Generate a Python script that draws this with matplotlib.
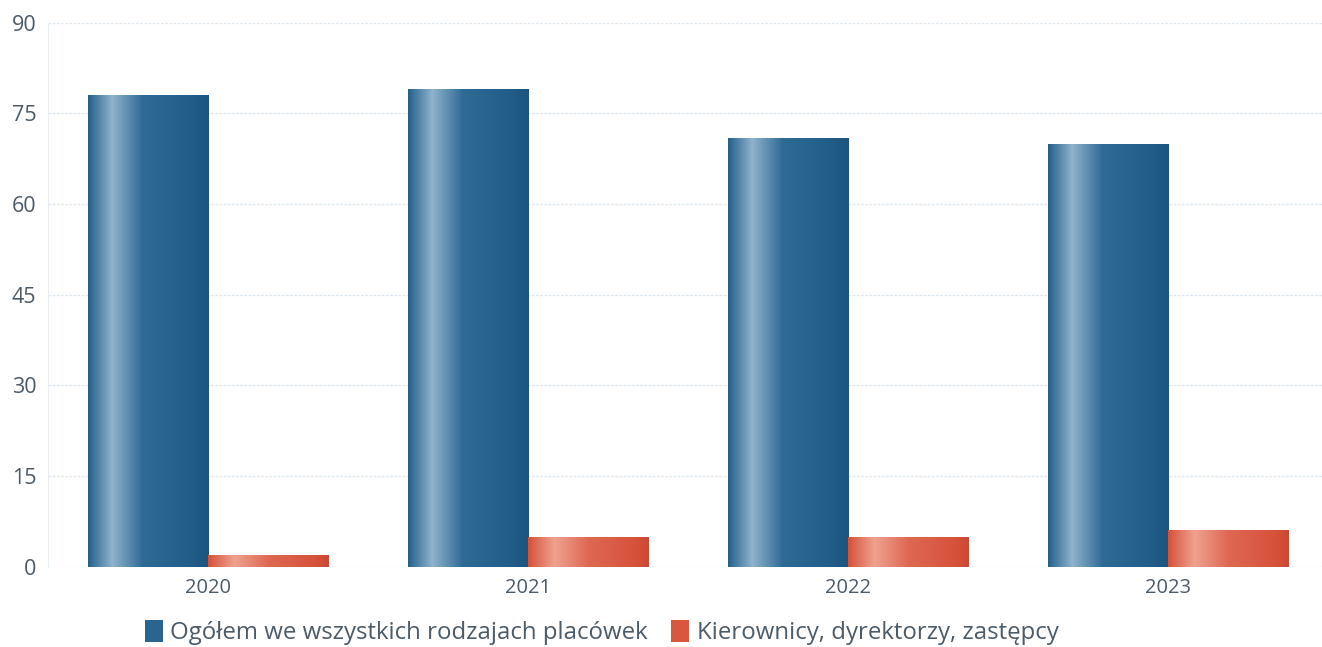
import numpy as np
import matplotlib
matplotlib.use("Agg")
import matplotlib.pyplot as plt
from matplotlib.colors import LinearSegmentedColormap
from matplotlib.patches import Patch

# data
years = ['2020', '2021', '2022', '2023']
total = [78, 79, 71, 70]          # Ogółem we wszystkich rodzajach placówek
managers = [2, 5, 5, 6]           # Kierownicy, dyrektorzy, zastępcy
y_ticks = [0, 15, 30, 45, 60, 75, 90]

text_col = '#4b5b68'
plt.rcParams['font.family'] = ['Open Sans', 'DejaVu Sans']

fig = plt.figure(figsize=(13.22, 6.47), dpi=100)
ax = fig.add_axes([0.036, 0.124, 0.964, 0.841])

x = np.arange(len(years))
w = 0.375
bars_blue = ax.bar(x - w / 2, total, w, color='#2a6491', zorder=2)
bars_red = ax.bar(x + w / 2, managers, w, color='#d9563f', zorder=2)

# cylinder-like shading across each bar
blue_cmap = LinearSegmentedColormap.from_list(
    'b', [(0, '#245f8a'), (0.2, '#8fb3cd'), (0.45, '#306b96'), (0.85, '#215d88'), (1, '#1c547d')])
red_cmap = LinearSegmentedColormap.from_list(
    'r', [(0, '#d6513a'), (0.22, '#efa28f'), (0.5, '#de6853'), (0.9, '#d6513a'), (1, '#cd4832')])
grad = np.linspace(0, 1, 256).reshape(1, -1)
for bars, cmap in [(bars_blue, blue_cmap), (bars_red, red_cmap)]:
    for b in bars:
        x0, y0 = b.get_x(), b.get_y()
        im = ax.imshow(grad, cmap=cmap, aspect='auto', zorder=3,
                       extent=(x0, x0 + b.get_width(), y0, y0 + b.get_height()))
        im.set_clip_path(b)

ax.set_xlim(-0.5, 3.48)
ax.set_ylim(0, 90)
ax.set_yticks(y_ticks)
ax.set_xticks(x)
ax.set_xticklabels(years)
ax.tick_params(axis='both', length=0, colors=text_col)
ax.tick_params(axis='y', pad=8, labelsize=15.5)
ax.tick_params(axis='x', pad=8, labelsize=14.5)
ax.yaxis.grid(True, color='#dfe7ee', linestyle=(0, (2, 1)), linewidth=1, zorder=0)
for s in ['top', 'right', 'bottom']:
    ax.spines[s].set_visible(False)
ax.spines['left'].set_color('#e8eef3')

handles = [Patch(facecolor='#2a6491', label='Ogółem we wszystkich rodzajach placówek'),
           Patch(facecolor='#d9563f', label='Kierownicy, dyrektorzy, zastępcy')]
leg = fig.legend(handles=handles, loc='center', bbox_to_anchor=(0.455, 0.022), ncol=2,
                 frameon=False, fontsize=17.3, handlelength=0.75, handleheight=1.0,
                 handletextpad=0.3, columnspacing=1.0)
for t in leg.get_texts():
    t.set_color(text_col)

fig.savefig('out.png', dpi=100)
